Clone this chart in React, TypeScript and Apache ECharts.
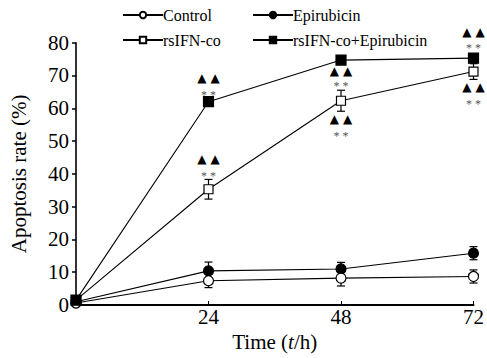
import React, { useEffect, useRef } from "react";
import * as echarts from "echarts";

const times = [0, 24, 48, 72];
const xTicks = ["", "24", "48", "72"];

const controlVals = [0.6, 7.4, 8.2, 8.7];
const controlErr = [0.5, 2.1, 2.4, 2.0];
const epiVals = [1.0, 10.4, 11.0, 15.8];
const epiErr = [0.5, 2.7, 2.0, 2.0];
const ifnVals = [1.5, 35.3, 62.3, 71.2];
const ifnErr = [0.5, 3.0, 3.2, 2.4];
const comboVals = [1.5, 62.0, 74.7, 75.3];
const comboErr = [0.5, 0.0, 0.0, 0.0];

// annotations: [time, triangle-row value, star-row value]
const annotations = [
  [24, 44.4, 40.2],
  [24, 69.1, 65.0],
  [48, 71.3, 67.6],
  [48, 56.6, 52.5],
  [72, 83.3, 79.3],
  [72, 66.6, 62.3],
];

const serif = "Liberation Serif, Times New Roman, serif";

function pairs(vals: number[]) {
  return times.map((t, i) => [t, vals[i]]);
}
function errData(vals: number[], errs: number[]) {
  return times.map((t, i) => [t, vals[i], errs[i]]);
}

export default function App() {
  const ref = useRef<HTMLDivElement>(null);
  useEffect(() => {
    if (!ref.current) return;
    const chart = echarts.init(ref.current, undefined, { renderer: "svg" });

    const lineBase = (name: string, vals: number[], symbol: string, size: number, filled: boolean) => ({
      name,
      type: "line",
      data: pairs(vals),
      symbol,
      symbolSize: size,
      showAllSymbol: true,
      z: 3,
      lineStyle: { color: "#000", width: 1.1 },
      itemStyle: {
        color: filled ? "#000" : "#fff",
        borderColor: "#000",
        borderWidth: 1.2,
      },
      emphasis: { disabled: true },
    });

    const errSeries = (vals: number[], errs: number[]) => ({
      type: "custom",
      z: 1,
      silent: true,
      data: errData(vals, errs),
      renderItem: (params: any, api: any) => {
        const x = api.value(0);
        const y = api.value(1);
        const e = api.value(2);
        if (!e) return null;
        const top = api.coord([x, y + e]);
        const bot = api.coord([x, y - e]);
        const hw = 4;
        const st = { stroke: "#000", lineWidth: 1.2 };
        return {
          type: "group",
          children: [
            { type: "line", shape: { x1: top[0], y1: top[1], x2: bot[0], y2: bot[1] }, style: st },
            { type: "line", shape: { x1: top[0] - hw, y1: top[1], x2: top[0] + hw, y2: top[1] }, style: st },
            { type: "line", shape: { x1: bot[0] - hw, y1: bot[1], x2: bot[0] + hw, y2: bot[1] }, style: st },
          ],
        };
      },
    });

    const legendAt = (name: string, left: number, top: number) => ({
      data: [name],
      left,
      top,
      padding: 0,
      itemWidth: 40,
      itemHeight: 8,
      itemGap: 0,
      selectedMode: false,
      textStyle: { fontFamily: serif, fontSize: 16, color: "#000", padding: [0, 0, 0, -5] },
    });

    chart.setOption({
      animation: false,
      backgroundColor: "#fff",
      legend: [
        legendAt("Control", 122, 7),
        legendAt("Epirubicin", 252, 7),
        legendAt("rsIFN-co", 122, 32),
        legendAt("rsIFN-co+Epirubicin", 252, 32),
      ],
      grid: { left: 75, right: 13, top: 42.7, bottom: 53 },
      xAxis: {
        type: "value",
        min: 0,
        max: 72,
        interval: 24,
        name: "Time ({i|t}/h)",
        nameLocation: "middle",
        nameGap: 19,
        nameTextStyle: {
          fontFamily: serif,
          fontSize: 21,
          color: "#000",
          rich: { i: { fontFamily: serif, fontSize: 21, fontStyle: "italic", color: "#000" } },
        },
        axisLine: { lineStyle: { color: "#000", width: 2 } },
        axisTick: { inside: true, length: 4, lineStyle: { color: "#000", width: 1 } },
        axisLabel: {
          margin: 1,
          fontFamily: serif,
          fontSize: 21,
          color: "#000",
          formatter: (v: number) => xTicks[times.indexOf(v)] ?? "",
        },
        splitLine: { show: false },
      },
      yAxis: {
        type: "value",
        min: 0,
        max: 80,
        interval: 10,
        name: "Apoptosis rate (%)",
        nameLocation: "middle",
        nameGap: 47,
        nameTextStyle: { fontFamily: serif, fontSize: 21, color: "#000" },
        axisLine: { show: true, lineStyle: { color: "#000", width: 1.6 } },
        axisTick: { show: true, length: 4, lineStyle: { color: "#000", width: 1.5 } },
        axisLabel: { margin: 7, fontFamily: serif, fontSize: 21, color: "#000" },
        splitLine: { show: false },
      },
      series: [
        errSeries(epiVals, epiErr),
        errSeries(controlVals, controlErr),
        errSeries(ifnVals, ifnErr),
        errSeries(comboVals, comboErr),
        lineBase("Epirubicin", epiVals, "circle", 10, true),
        lineBase("Control", controlVals, "circle", 10, false),
        lineBase("rsIFN-co", ifnVals, "rect", 9, false),
        lineBase("rsIFN-co+Epirubicin", comboVals, "rect", 10, true),
        {
          type: "custom",
          z: 4,
          silent: true,
          data: annotations,
          renderItem: (params: any, api: any) => {
            const x = api.value(0);
            const p1 = api.coord([x, api.value(1)]);
            const p2 = api.coord([x, api.value(2)]);
            return {
              type: "group",
              children: [
                {
                  type: "text",
                  x: p1[0],
                  y: p1[1],
                  style: {
                    text: "▲ ▲",
                    fontFamily: "DejaVu Sans",
                    fontSize: 12,
                    fill: "#000",
                    align: "center",
                    verticalAlign: "middle",
                  },
                },
                {
                  type: "text",
                  x: p2[0],
                  y: p2[1] + 3,
                  style: {
                    text: "* *",
                    fontFamily: serif,
                    fontSize: 12,
                    fill: "#555",
                    align: "center",
                    verticalAlign: "middle",
                  },
                },
              ],
            };
          },
        },
      ],
    });
    return () => chart.dispose();
  }, []);
  return <div ref={ref} style={{ position: "fixed", left: 0, top: 0, width: 487, height: 358 }} />;
}
